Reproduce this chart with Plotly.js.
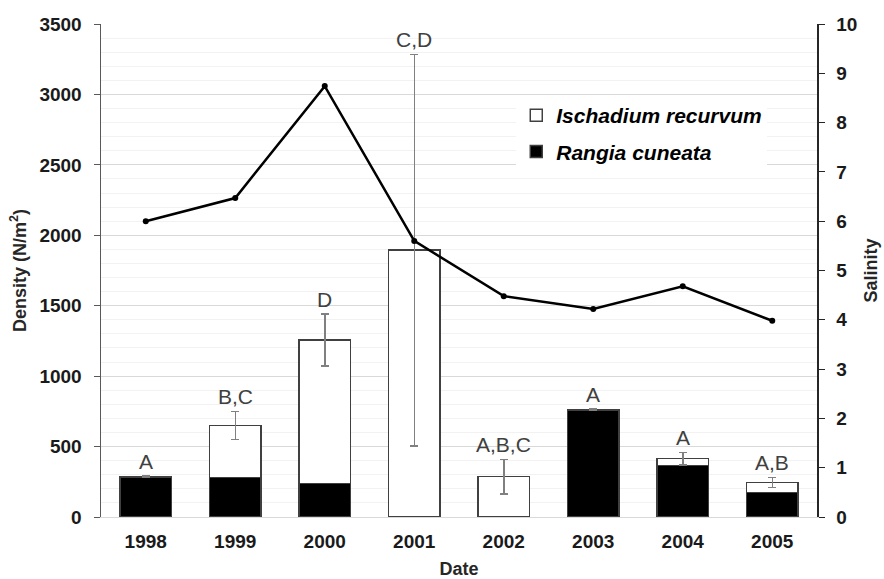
<!DOCTYPE html>
<html>
<head>
<meta charset="utf-8">
<script src="https://cdn.plot.ly/plotly-3.0.1.min.js"></script>
<style>html,body{margin:0;padding:0;background:#fff;}#chart{width:884px;height:579px;}</style>
</head>
<body>
<div id="chart"></div>
<script>
const years = ['1998','1999','2000','2001','2002','2003','2004','2005'];
const rangia = [282, 282, 239, 0, 0, 755, 367, 173];
const ischadium = [3, 368, 1018, 1895, 286, 5, 47, 73];
const totalErr = [5, 100, 185, 1390, 123, 5, 45, 35];
const salinity = [6.0, 6.47, 8.74, 5.6, 4.48, 4.22, 4.68, 3.98];
const letters = ['A', 'B,C', 'D', 'C,D', 'A,B,C', 'A', 'A', 'A,B'];

const FONT = 'Liberation Sans, Arial, sans-serif';

const traces = [
  {
    type: 'bar', name: 'Rangia cuneata', x: years, y: rangia, legendgroup: 'r', legendrank: 2,
    marker: {color: '#000000', line: {color: '#404040', width: 1.5}},
    yaxis: 'y', hoverinfo: 'skip'
  },
  {
    type: 'bar', name: 'Ischadium recurvum', x: years, y: ischadium, legendgroup: 'i', legendrank: 1,
    marker: {color: '#ffffff', line: {color: '#404040', width: 1.5}},
    error_y: {type: 'data', array: totalErr, visible: true, color: '#808080', thickness: 1.5, width: 4},
    yaxis: 'y', hoverinfo: 'skip'
  },
  {
    type: 'scatter', mode: 'lines+markers', name: 'Salinity', x: years, y: salinity,
    yaxis: 'y2', showlegend: false,
    line: {color: '#000000', width: 2.5},
    marker: {color: '#000000', size: 6}
  }
];

const annotations = years.map((yr, i) => ({
  x: i, y: rangia[i] + ischadium[i] + totalErr[i], xref: 'x', yref: 'y',
  text: letters[i], showarrow: false, yanchor: 'bottom', yshift: 1,
  font: {family: FONT, size: 21, color: '#404040'}
}));

const tickFont = {family: FONT, size: 19, weight: 'bold', color: '#1a1a1a'};
const titleFont = {family: FONT, size: 18, weight: 'bold', color: '#262626'};

const layout = {
  width: 884, height: 579,
  margin: {l: 101, r: 67, t: 24, b: 62},
  paper_bgcolor: '#ffffff', plot_bgcolor: '#ffffff',
  barmode: 'stack', bargap: 0.43,
  font: {family: FONT, color: '#262626'},
  showlegend: true,
  legend: {
    x: 0.58, y: 0.856, xanchor: 'left', yanchor: 'top',
    bgcolor: '#ffffff', traceorder: 'grouped', tracegroupgap: 6,
    font: {family: FONT, size: 21, color: '#000000', style: 'italic', weight: 'bold'},
    itemwidth: 30
  },
  xaxis: {
    type: 'category', showgrid: false, showline: true, linecolor: '#d9d9d9', linewidth: 1,
    ticks: '', tickfont: tickFont, ticklabelstandoff: 7,
    title: {text: 'Date', font: titleFont, standoff: 13}
  },
  yaxis: {
    range: [0, 3500], dtick: 500, showgrid: true, gridcolor: '#d9d9d9', gridwidth: 1,
    minor: {dtick: 100, showgrid: true, gridcolor: '#f2f2f2', gridwidth: 1},
    showline: true, linecolor: '#595959', linewidth: 1.5,
    ticks: 'outside', ticklen: 6, tickcolor: '#595959', ticklabelstandoff: 8,
    zeroline: false,
    tickfont: tickFont,
    title: {text: 'Density (N/m<sup>2</sup>)', font: titleFont, standoff: 8}
  },
  yaxis2: {
    overlaying: 'y', side: 'right', range: [0, 10], dtick: 1,
    showgrid: false, zeroline: false, showline: true, linecolor: '#262626', linewidth: 1.5,
    ticks: 'outside', ticklen: 6, tickcolor: '#262626', ticklabelstandoff: 8,
    tickfont: tickFont,
    title: {text: 'Salinity', font: titleFont, standoff: 8}
  },
  annotations: annotations
};

Plotly.newPlot('chart', traces, layout, {displayModeBar: false, staticPlot: true});
</script>
</body>
</html>
